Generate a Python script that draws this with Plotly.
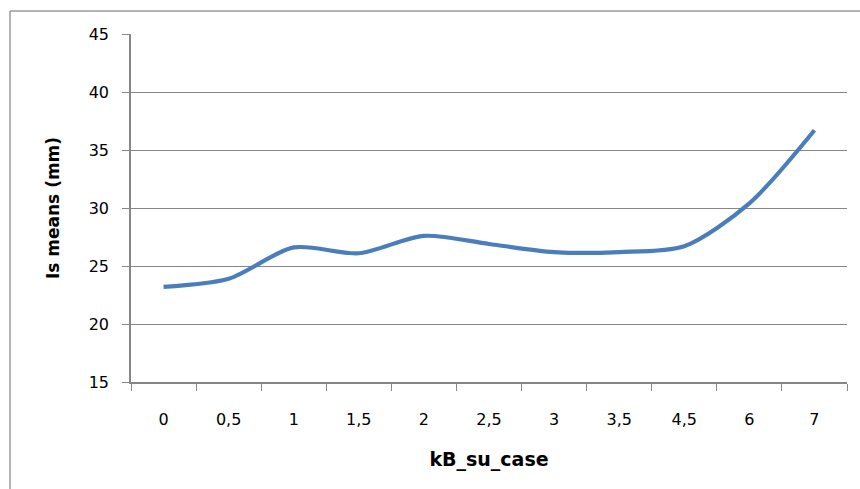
import plotly.graph_objects as go

# kB_su_case categories and the mean Is value for each
categories = ["0", "0,5", "1", "1,5", "2", "2,5", "3", "3,5", "4,5", "6", "7"]
is_means = [23.2, 23.9, 26.6, 26.1, 27.6, 26.9, 26.2, 26.2, 26.7, 30.4, 36.7]

y_ticks = [15, 20, 25, 30, 35, 40, 45]

font_family = "'DejaVu Sans', sans-serif"
grid_color = "#868686"

fig = go.Figure(
    go.Scatter(
        x=categories,
        y=is_means,
        mode="lines",
        line=dict(color="#4a7ebb", width=4.2, shape="spline", smoothing=0.8),
        hoverinfo="x+y",
    )
)

fig.update_layout(
    width=860,
    height=489,
    margin=dict(l=131, r=13, t=34, b=107),
    paper_bgcolor="white",
    plot_bgcolor="white",
    showlegend=False,
    font=dict(family=font_family, size=16, color="black"),
    xaxis=dict(
        type="category",
        categoryorder="array",
        categoryarray=categories,
        range=[-0.5, len(categories) - 0.5],
        tickson="boundaries",
        ticks="outside",
        ticklen=7,
        tickcolor=grid_color,
        showline=True,
        linecolor=grid_color,
        linewidth=1.5,
        showgrid=False,
        zeroline=False,
        ticklabelstandoff=22,
        tickfont=dict(size=16),
        title=dict(text="<b>kB_su_case</b>", font=dict(size=19), standoff=25),
    ),
    yaxis=dict(
        range=[15, 45],
        tickvals=y_ticks,
        ticks="outside",
        ticklen=7,
        tickcolor=grid_color,
        showline=True,
        linecolor=grid_color,
        linewidth=1.5,
        showgrid=True,
        gridcolor=grid_color,
        gridwidth=1,
        zeroline=False,
        ticklabelstandoff=10,
        tickfont=dict(size=16),
        title=dict(text="<b>Is means (mm)</b>", font=dict(size=17), standoff=25),
    ),
    shapes=[
        # chart frame (top and left edges visible)
        dict(type="line", xref="paper", yref="paper",
             x0=-0.169, x1=1.05, y0=1.066, y1=1.066,
             line=dict(color="#9a9a9a", width=1.5)),
        dict(type="line", xref="paper", yref="paper",
             x0=-0.169, x1=-0.169, y0=1.066, y1=-0.35,
             line=dict(color="#9a9a9a", width=1.5)),
    ],
)

fig.write_html("out.html")
